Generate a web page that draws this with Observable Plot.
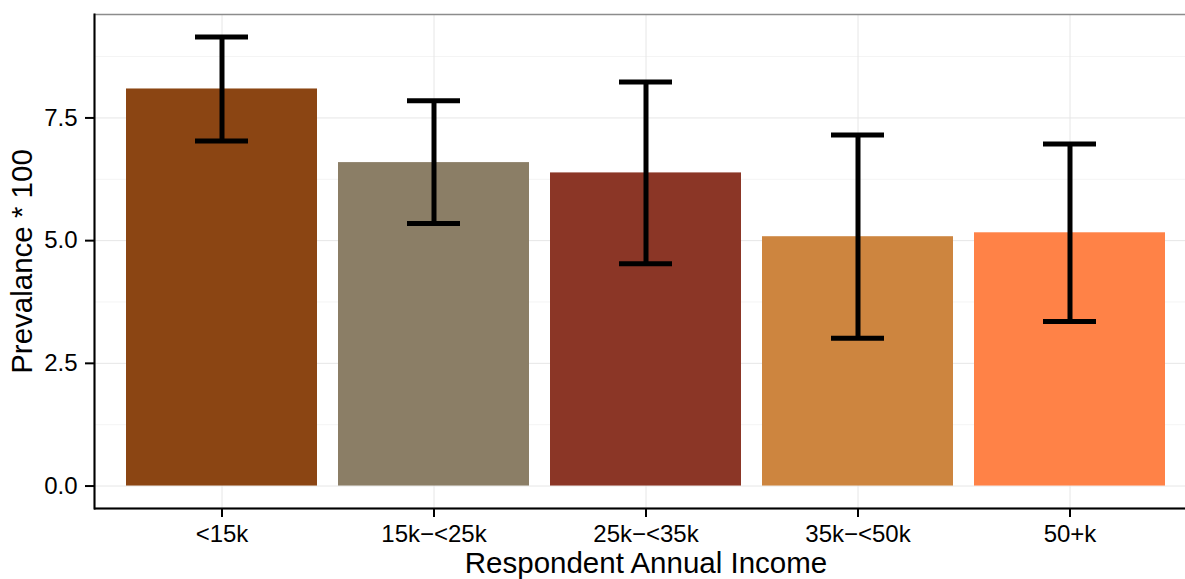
<!DOCTYPE html>
<html>
<head>
<meta charset="utf-8">
<script src="https://cdn.jsdelivr.net/npm/d3@7"></script>
<script src="https://cdn.jsdelivr.net/npm/@observablehq/plot@0.6"></script>
<style>
  html, body { margin: 0; padding: 0; background: #fff; overflow: hidden; }
  #chart { width: 1185px; height: 579px; overflow: hidden; }
  #chart svg { max-width: none !important; font-family: "Liberation Sans", Arial, sans-serif; }
</style>
</head>
<body>
<div id="chart"></div>
<script>
// Data
const categories = ["<15k", "15k\u2212<25k", "25k\u2212<35k", "35k\u2212<50k", "50+k"];
const prevalence = [8.09, 6.59, 6.38, 5.08, 5.16];
const lower = [7.03, 5.35, 4.53, 3.01, 3.35];
const upper = [9.15, 7.85, 8.23, 7.15, 6.97];
const barColors = ["#8B4513", "#8B7E66", "#8B3626", "#CD853F", "#FF8247"];
const yTicks = [0, 2.5, 5, 7.5];
const yMinor = [1.25, 3.75, 6.25, 8.75];
const yDomain = [-0.4575, 9.6075];
const xTitle = "Respondent Annual Income";
const yTitle = "Prevalance * 100";

const data = categories.map((c, i) => ({cat: c, value: prevalence[i], lo: lower[i], hi: upper[i], color: barColors[i]}));

const W = 1200;
const plot = Plot.plot({
  width: W,
  height: 579,
  marginLeft: 94,
  marginRight: 3,
  marginTop: 14,
  marginBottom: 71,
  style: {fontFamily: "Liberation Sans, Arial, sans-serif", color: "black", background: "white", overflow: "visible", maxWidth: "none"},
  x: {domain: categories, paddingInner: 0.1, paddingOuter: 0.15, label: null},
  y: {domain: yDomain, label: null},
  color: {type: "identity"},
  marks: [
    Plot.ruleY(yMinor, {stroke: "#f4f4f4", strokeWidth: 1}),
    Plot.ruleY(yTicks, {stroke: "#e6e6e6", strokeWidth: 1}),
    Plot.gridX({stroke: "#e6e6e6", strokeOpacity: 1, strokeWidth: 1}),
    Plot.frame({stroke: "#8c8c8c", strokeWidth: 1.5}),
    Plot.barY(data, {x: "cat", y1: 0, y2: "value", fill: "color"}),
    Plot.ruleX(data, {x: "cat", y1: "lo", y2: "hi", stroke: "black", strokeWidth: 5}),
    Plot.tickY(data, {x: "cat", y: "lo", stroke: "black", strokeWidth: 5, insetLeft: 69, insetRight: 69}),
    Plot.tickY(data, {x: "cat", y: "hi", stroke: "black", strokeWidth: 5, insetLeft: 69, insetRight: 69}),
    Plot.ruleY([yDomain[0]], {stroke: "black", strokeWidth: 2}),
    Plot.frame({anchor: "left", stroke: "black", strokeWidth: 2}),
    Plot.axisY({ticks: yTicks, tickFormat: d3.format(".1f"), tickSize: 9, tickPadding: 8, fontSize: 24, label: null, stroke: "black", strokeWidth: 2}),
    Plot.axisX({tickSize: 9, tickPadding: 7, fontSize: 24, label: null, stroke: "black", strokeWidth: 2}),
    Plot.text([xTitle], {frameAnchor: "bottom", dy: 44, lineAnchor: "top", textAnchor: "middle", fontSize: 29.5, fill: "black"}),
    Plot.text([yTitle], {frameAnchor: "left", dx: -72, rotate: -90, textAnchor: "middle", lineAnchor: "middle", fontSize: 29.5, fill: "black"})
  ]
});
document.getElementById("chart").appendChild(plot);
</script>
</body>
</html>
